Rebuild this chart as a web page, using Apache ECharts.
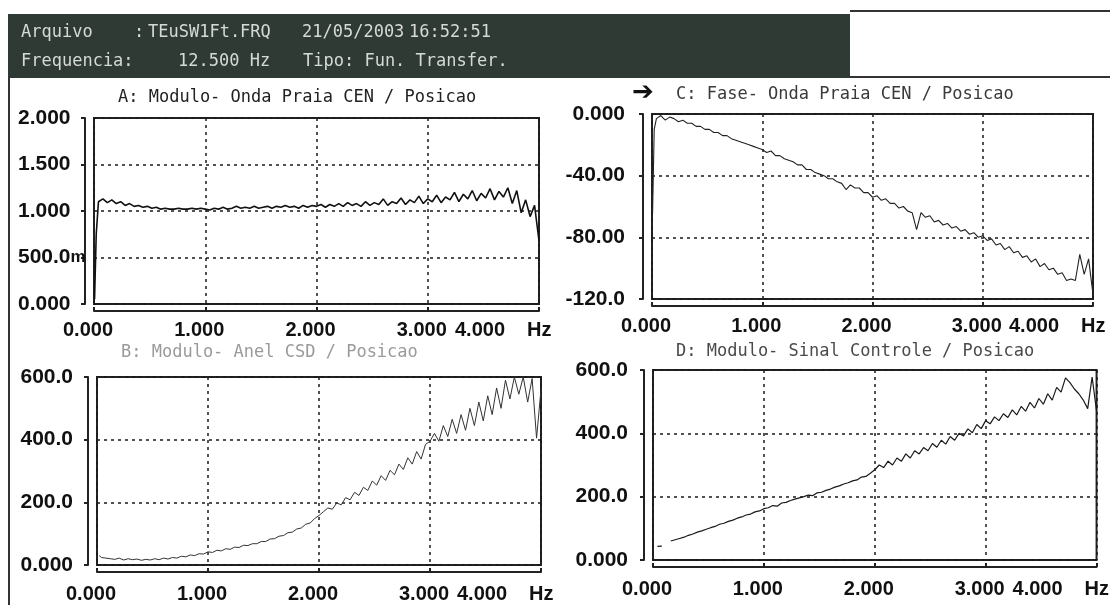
<!DOCTYPE html>
<html><head><meta charset="utf-8">
<script src="https://cdn.jsdelivr.net/npm/echarts@6.0.0/dist/echarts.min.js"></script>
<style>html,body{margin:0;padding:0;background:#fff}#c{width:1110px;height:605px}</style>
</head><body><div id="c"></div>
<script>
// ---------- data ----------
const freq = [0.005,0.02,0.04,0.08,0.12,0.16,0.2,0.24,0.28,0.32,0.36,0.4,0.44,0.48,0.52,0.56,0.6,0.64,0.68,0.72,0.76,0.8,0.84,0.88,0.92,0.96,1,1.04,1.08,1.12,1.16,1.2,1.24,1.28,1.32,1.36,1.4,1.44,1.48,1.52,1.56,1.6,1.64,1.68,1.72,1.76,1.8,1.84,1.88,1.92,1.96,2,2.04,2.08,2.12,2.16,2.2,2.24,2.28,2.32,2.36,2.4,2.44,2.48,2.52,2.56,2.6,2.64,2.68,2.72,2.76,2.8,2.84,2.88,2.92,2.96,3,3.04,3.08,3.12,3.16,3.2,3.24,3.28,3.32,3.36,3.4,3.44,3.48,3.52,3.56,3.6,3.64,3.68,3.72,3.76,3.8,3.84,3.88,3.92,3.96,4];

const moduloOnda = [0.05,0.75,1.10,
 1.13,1.09,1.12,1.08,1.10,1.06,1.08,1.05,1.06,
 1.04,1.05,1.03,1.04,1.02,1.03,1.02,1.02,1.03,1.02,1.02,1.03,1.02,1.03,1.02,
 1.01,1.03,1.02,1.04,1.02,1.03,1.05,1.03,1.04,1.03,1.05,1.03,1.04,1.05,1.03,1.05,1.04,1.06,1.04,1.05,1.03,1.06,1.04,1.06,1.05,
 1.07,1.04,1.07,1.05,1.08,1.05,1.09,1.06,1.08,1.05,1.10,1.06,1.09,1.07,1.13,1.06,1.10,1.08,1.14,1.07,1.12,1.09,1.16,1.08,1.13,
 1.10,1.17,1.09,1.15,1.12,1.20,1.10,1.18,1.13,1.22,1.11,1.19,1.14,1.24,1.12,1.21,1.15,1.25,1.08,1.22,0.98,1.12,0.94,1.06,0.68];

const faseOnda = [-65,-10,-3,
 -1,-4,-2,-3,-5,-4,-6,-6,-8,-8,-10,-10,-12,-12,-14,-14,-16,-17,-18,-19,-20,-21,-22,-23,
 -25,-24,-27,-27,-29,-30,-31,-33,-33,-36,-36,-38,-39,-40,-42,-42,-44,-45,-49,-46,-48,-48,-51,-51,-54,
 -53,-56,-55,-58,-58,-61,-60,-63,-64,-75,-64,-67,-66,-70,-69,-72,-71,-74,-73,-76,-75,-78,-77,-80,-79,
 -82,-81,-85,-84,-88,-86,-90,-89,-93,-92,-96,-94,-99,-97,-101,-100,-104,-103,-108,-107,-108,-91,-104,-94,-117];

const moduloAnel = [null,30,24,
 22,20,18,22,16,20,17,19,15,18,16,20,17,22,19,24,22,28,26,32,30,36,35,42,
 40,47,45,52,50,57,56,63,62,68,68,75,75,83,84,92,94,103,105,115,118,130,134,148,158,
 170,182,178,198,192,215,208,232,222,248,238,268,255,285,270,302,288,322,305,342,322,362,338,385,395,
 420,395,445,410,465,420,480,430,500,445,520,460,540,480,565,500,590,530,600,545,600,520,595,405,560];

const moduloSinal = [null,null,43,
 44,null,60,64,68,72,78,82,88,92,97,102,106,113,116,122,126,132,136,142,145,152,155,162,
 165,172,170,180,182,188,192,196,200,205,203,212,214,220,224,230,234,240,244,250,253,262,264,274,285,
 300,292,312,300,322,312,335,322,345,335,355,345,368,356,378,366,390,378,400,392,414,402,428,415,440,
 430,452,440,462,450,474,458,485,470,498,480,510,492,525,505,545,530,575,560,540,525,505,478,578,470];

const xTickLabels = ['0.000','1.000','2.000','3.000','4.000'];
const yTicksA = ['0.000','500.0{s|m}','1.000','1.500','2.000'];
const yTicksC = ['-120.0','-80.00','-40.00','0.000'];
const yTicksBD = ['0.000','200.0','400.0','600.0'];
const panelTitles = ['A: Modulo- Onda Praia CEN / Posicao','C: Fase- Onda Praia CEN / Posicao','B: Modulo- Anel CSD / Posicao','D: Modulo- Sinal Controle / Posicao'];
const headerTexts1 = ['Arquivo', ':', 'TEuSW1Ft.FRQ', '21/05/2003', '16:52:51'];
const headerTexts2 = ['Frequencia:', '12.500 Hz', 'Tipo: Fun. Transfer.'];
const unitLabel = 'Hz';

// ---------- chart ----------
const LF = "'Liberation Sans',Arial,sans-serif";
const MONO = "'DejaVu Sans Mono','Liberation Mono',monospace";
const INK = '#111';
const dash = {color:'#1a1a1a', type:[3,4], width:1.5};

const grids = [
  {left:94, top:118, width:445, height:186},
  {left:652, top:114, width:441, height:185},
  {left:97, top:377, width:444, height:188},
  {left:653, top:370, width:444, height:190}
];
const xMargins = [9, 10, 12, 12];

function xAxis(i){
  const m = xMargins[i];
  return {
    gridIndex:i, type:'value', min:0, max:4, interval:1, offset:7,
    axisLine:{show:true, onZero:false, lineStyle:{color:'#222', width:2}},
    axisTick:{show:true, inside:true, length:4, lineStyle:{color:'#222', width:2}},
    splitLine:{show:true, lineStyle:dash},
    axisLabel:{margin:m, color:INK, fontFamily:LF, fontSize:20, fontWeight:'bold', padding:[0,12,0,0],
      showMinLabel:true, showMaxLabel:true, alignMaxLabel:'right', hideOverlap:false,
      formatter:(v)=> v===4 ? '{m|'+xTickLabels[4]+'}' : xTickLabels[Math.round(v)],
      rich:{m:{fontFamily:LF, fontSize:20, fontWeight:'bold', color:INK, padding:[0,22,0,0]}}},
    name:unitLabel, nameLocation:'end', nameGap:-12,
    nameTextStyle:{fontFamily:LF, fontSize:20, fontWeight:'bold', color:INK, align:'left', verticalAlign:'top', padding:[m,0,0,0]}
  };
}
function yAxis(i, min, max, interval, labels, margin, align){
  return {
    gridIndex:i, type:'value', min, max, interval, offset:9,
    axisLine:{show:true, onZero:false, lineStyle:{color:'#222', width:2}},
    axisTick:{show:true, length:4, lineStyle:{color:'#222', width:2}},
    splitLine:{show:true, lineStyle:dash},
    axisLabel:{margin, align, color:INK, fontFamily:LF, fontSize:21, fontWeight:'bold', showMinLabel:true, showMaxLabel:true,
      formatter:(v)=> labels[Math.round((v-min)/interval)],
      rich:{s:{fontFamily:LF, fontSize:17, fontWeight:'bold', color:INK}}}
  };
}
function line(i, vals, color, width){
  return {type:'line', xAxisIndex:i, yAxisIndex:i, data:freq.map((f,k)=>[f, vals[k]]),
    showSymbol:false, connectNulls:false, clip:true, animation:false,
    lineStyle:{color, width}};
}
function ttl(text, left, top, color, size, fam){
  return {text, left, top, padding:0, textStyle:{fontFamily:fam||MONO, fontSize:size||17, fontWeight:'normal', color}};
}

const hdrStyle = (t)=>({text:t, fill:'#d6dad6', font:"17px 'DejaVu Sans Mono', monospace", verticalAlign:'middle'});
const x1 = [21, 134, 148, 302, 409], x2 = [21, 178, 303];

const option = {
  animation:false,
  backgroundColor:'#ffffff',
  grid: grids.map(g=>Object.assign({show:true, borderColor:'#222', borderWidth:2, backgroundColor:'transparent'}, g)),
  xAxis: [0,1,2,3].map(xAxis),
  yAxis: [
    yAxis(0, 0, 2, 0.5, yTicksA, 67, 'left'),
    yAxis(1, -120, 0, 40, yTicksC, 18, 'right'),
    yAxis(2, 0, 600, 200, yTicksBD, 15, 'right'),
    yAxis(3, 0, 600, 200, yTicksBD, 16, 'right')
  ],
  title: [
    ttl(panelTitles[0], 118, 89, '#222'),
    ttl(panelTitles[1], 676, 86, '#3a3a3a'),
    ttl('\u2794', 632, 80, '#111', 26, "'DejaVu Sans',sans-serif"),
    ttl(panelTitles[2], 121, 344, '#9a9a9a'),
    ttl(panelTitles[3], 676, 343, '#4a4a4a')
  ],
  series: [
    line(0, moduloOnda, '#111', 1.6),
    line(1, faseOnda, '#222', 1.1),
    line(2, moduloAnel, '#333', 1),
    line(3, moduloSinal, '#1a1a1a', 1.2)
  ],
  graphic: [
    {type:'rect', shape:{x:8, y:14, width:842, height:64}, style:{fill:'#303a35'}, z:-1},
    {type:'line', shape:{x1:850, y1:11, x2:1110, y2:11}, style:{stroke:'#333', lineWidth:2}},
    {type:'line', shape:{x1:850, y1:77, x2:1110, y2:77}, style:{stroke:'#333', lineWidth:2}},
    {type:'line', shape:{x1:9, y1:78, x2:9, y2:605}, style:{stroke:'#333', lineWidth:2}}
  ].concat(headerTexts1.map((t,k)=>({type:'text', x:x1[k], y:33, style:hdrStyle(t)})))
   .concat(headerTexts2.map((t,k)=>({type:'text', x:x2[k], y:62, style:hdrStyle(t)})))
};

const chart = echarts.init(document.getElementById('c'), null, {renderer:'canvas'});
chart.setOption(option);
</script>
</body></html>
